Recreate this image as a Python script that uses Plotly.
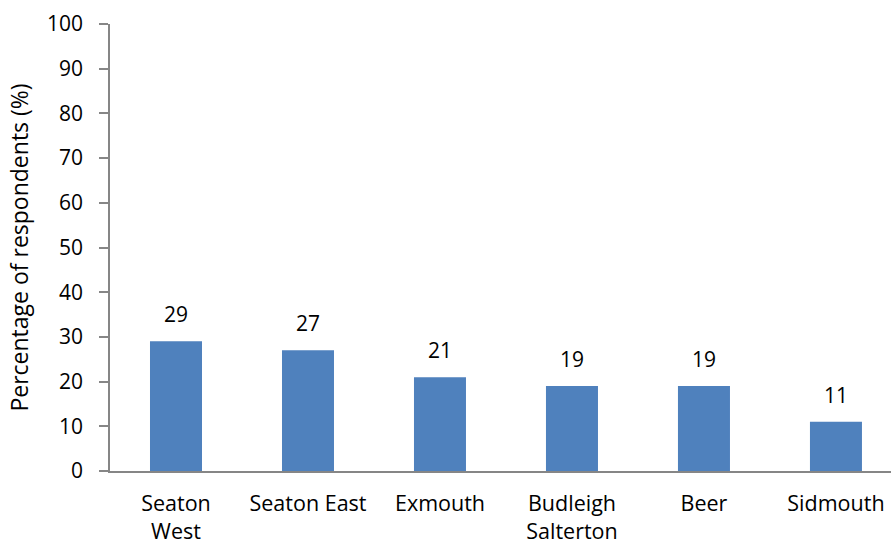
import plotly.graph_objects as go

# Survey results: share of respondents naming each town
towns = ["Seaton<br>West", "Seaton East", "Exmouth", "Budleigh<br>Salterton", "Beer", "Sidmouth"]
percent = [29, 27, 21, 19, 19, 11]

y_ticks = list(range(0, 101, 10))

FONT = "'Open Sans', Lato, sans-serif"
AXIS_GREY = "#868686"
TEXT_SIZE = 22
NUM_SIZE = 21

fig = go.Figure(
    go.Bar(
        x=towns,
        y=percent,
        width=0.394,
        marker=dict(color="#4F81BD", line=dict(width=0)),
        hoverinfo="x+y",
    )
)

# Value labels above each bar
for t, v in zip(towns, percent):
    fig.add_annotation(
        x=t, y=v, text=str(v), showarrow=False,
        yanchor="bottom", yshift=11,
        font=dict(family=FONT, size=NUM_SIZE, color="#000000"),
    )

fig.update_layout(
    width=891,
    height=547,
    margin=dict(l=110, r=0, t=24, b=76),
    paper_bgcolor="white",
    plot_bgcolor="white",
    showlegend=False,
    font=dict(family=FONT, size=TEXT_SIZE, color="#000000"),
    xaxis=dict(
        range=[-0.5, 5.417],
        automargin=False,
        showline=True,
        linecolor=AXIS_GREY,
        linewidth=1.5,
        ticks="",
        showgrid=False,
        ticklabelstandoff=12,
        tickfont=dict(family=FONT, size=21.5),
    ),
    yaxis=dict(
        range=[0, 100],
        automargin=False,
        tickvals=y_ticks,
        showline=True,
        linecolor=AXIS_GREY,
        linewidth=1.5,
        ticks="outside",
        ticklen=9,
        tickcolor=AXIS_GREY,
        tickwidth=1.5,
        showgrid=False,
        zeroline=False,
        ticklabelstandoff=12,
        tickfont=dict(family=FONT, size=NUM_SIZE),
        title=dict(
            text="Percentage of respondents (%)",
            font=dict(family=FONT, size=23),
            standoff=12,
        ),
    ),
)

fig.write_html("out.html")
